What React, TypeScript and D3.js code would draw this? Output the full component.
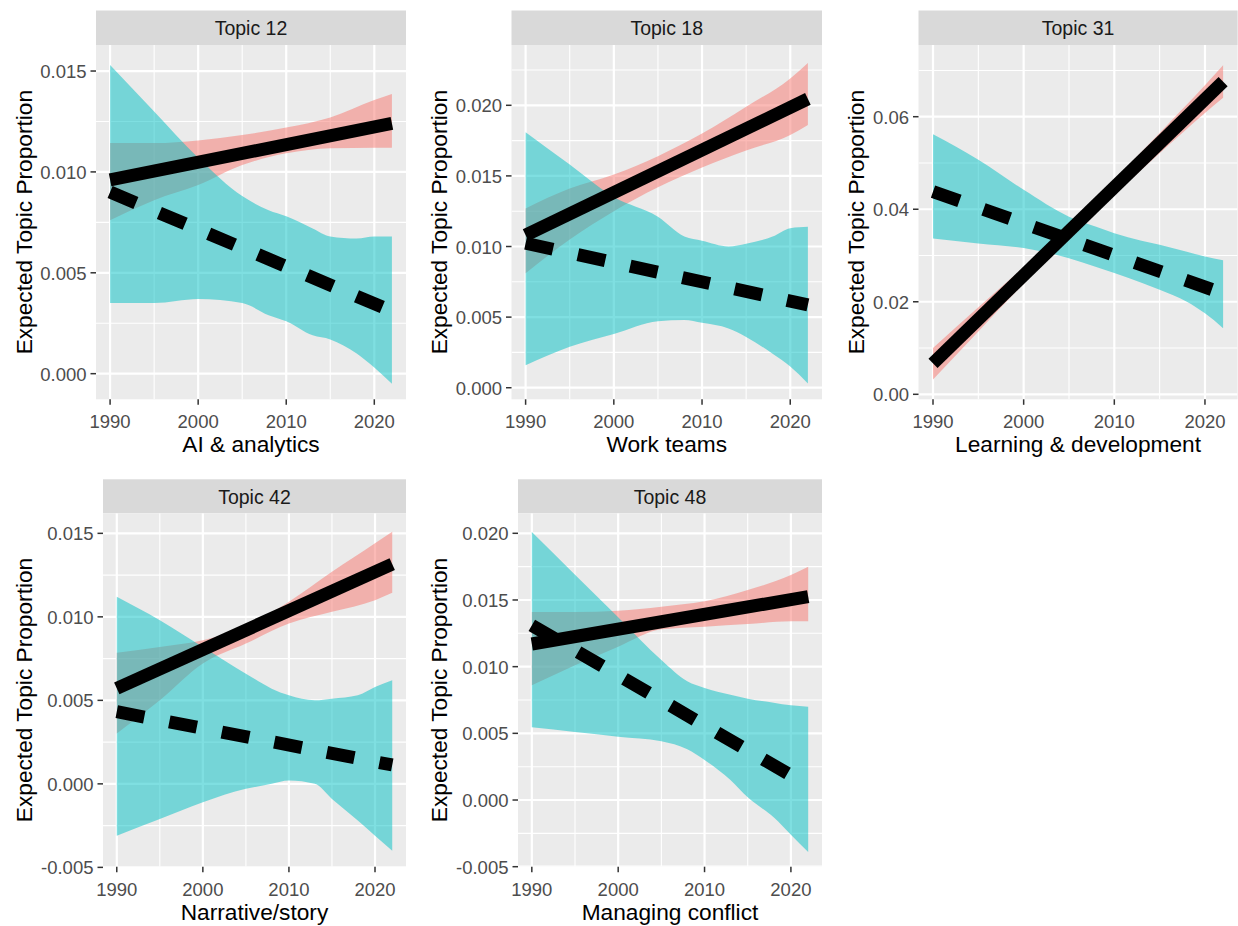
import React from 'react';
import * as d3 from 'd3';

// ---------- DATA ----------
const YEARS_RED = [1990, 1995, 2000, 2005, 2010, 2015, 2020, 2022];
const YEARS_CYAN = [1990, 1995, 2000, 2005, 2008, 2010, 2013, 2015, 2018, 2020, 2022];
const LINE_YEARS = [1990, 2022];
const X_TICKS = [1990, 2000, 2010, 2020];

const TITLES = ['Topic 12', 'Topic 18', 'Topic 31', 'Topic 42', 'Topic 48'];
const X_LABELS = ['AI & analytics', 'Work teams', 'Learning & development', 'Narrative/story', 'Managing conflict'];
const Y_LABEL = 'Expected Topic Proportion';

// Topic 12
const t12RedUpper = [0.01143, 0.01143, 0.01156, 0.01183, 0.0122, 0.0127, 0.01356, 0.01386];
const t12RedLower = [0.0076, 0.0086, 0.00935, 0.01034, 0.01092, 0.01117, 0.0112, 0.0112];
const t12CyanUpper = [0.0153, 0.013, 0.0107, 0.0088, 0.0081, 0.0078, 0.0072, 0.0068, 0.0067, 0.0068, 0.0068];
const t12CyanLower = [0.0035, 0.0035, 0.0037, 0.0035, 0.0029, 0.0026, 0.0019, 0.0017, 0.001, 0.0003, -0.0005];
const t12Solid = [0.0096, 0.0124];
const t12Dashed = [0.009, 0.0031];
const t12Ticks = [0, 0.005, 0.01, 0.015];

// Topic 18
const t18RedUpper = [0.0127, 0.0141, 0.0151, 0.0164, 0.018, 0.0199, 0.0219, 0.023];
const t18RedLower = [0.0081, 0.0105, 0.0125, 0.0142, 0.0156, 0.0168, 0.0179, 0.0186];
const t18CyanUpper = [0.0181, 0.0158, 0.0135, 0.0121, 0.0107, 0.0104, 0.01, 0.0102, 0.0107, 0.0113, 0.0114];
const t18CyanLower = [0.0016, 0.0029, 0.0038, 0.0047, 0.0048, 0.0046, 0.0042, 0.0036, 0.0024, 0.0015, 0.0003];
const t18Solid = [0.0108, 0.02045];
const t18Dashed = [0.01023, 0.00586];
const t18Ticks = [0, 0.005, 0.01, 0.015, 0.02];

// Topic 31
const t31RedUpper = [0.01, 0.0188, 0.0275, 0.0367, 0.0464, 0.0565, 0.0668, 0.0711];
const t31RedLower = [0.0032, 0.0136, 0.0239, 0.0338, 0.0432, 0.0521, 0.0608, 0.0641];
const t31CyanUpper = [0.0562, 0.0507, 0.0442, 0.0384, 0.0362, 0.0348, 0.0332, 0.0323, 0.0308, 0.0298, 0.029];
const t31CyanLower = [0.0337, 0.0326, 0.0316, 0.0294, 0.0275, 0.0262, 0.0241, 0.0226, 0.02, 0.0175, 0.0143];
const t31Solid = [0.0067, 0.0676];
const t31Dashed = [0.0438, 0.0218];
const t31Ticks = [0, 0.02, 0.04, 0.06];

// Topic 42
const t42RedUpper = [0.00785, 0.0082, 0.0086, 0.0094, 0.0109, 0.0127, 0.0144, 0.0151];
const t42RedLower = [0.00302, 0.005, 0.0072, 0.0084, 0.0096, 0.0103, 0.011, 0.01144];
const t42CyanUpper = [0.0112, 0.0098, 0.0082, 0.0066, 0.0057, 0.0053, 0.005, 0.0051, 0.0053, 0.0058, 0.0062];
const t42CyanLower = [-0.0031, -0.0021, -0.0011, -0.0003, 0.0, 0.0002, 0.0, -0.0009, -0.0022, -0.0031, -0.004];
const t42Solid = [0.00572, 0.01316];
const t42Dashed = [0.00432, 0.00113];
const t42Ticks = [-0.005, 0, 0.005, 0.01, 0.015];

// Topic 48
const t48RedUpper = [0.0141, 0.0141, 0.0142, 0.0145, 0.0149, 0.01575, 0.01687, 0.0175];
const t48RedLower = [0.0086, 0.0101, 0.0115, 0.0128, 0.013, 0.0132, 0.0134, 0.0134];
const t48CyanUpper = [0.0201, 0.0169, 0.0137, 0.0105, 0.0089, 0.0084, 0.0079, 0.0076, 0.0073, 0.0071, 0.007];
const t48CyanLower = [0.00545, 0.0051, 0.00475, 0.0044, 0.0038, 0.003, 0.0015, 0.0002, -0.0013, -0.0026, -0.0039];
const t48Solid = [0.0117, 0.01525];
const t48Dashed = [0.0131, 0.0011];
const t48Ticks = [-0.005, 0, 0.005, 0.01, 0.015, 0.02];

// ---------- LAYOUT ----------
const W = 1238;
const H = 926;
const FONT = "'Liberation Sans', Arial, sans-serif";
const X_DOMAIN: [number, number] = [1988.4, 2023.6];

const LAYOUT = [
  { x0: 96, x1: 406, stripTop: 10.5, y0: 45, y1: 399.3, yDomain: [-0.00127, 0.01629], dec: 3, ytx: 24 },
  { x0: 511.5, x1: 822, stripTop: 10.5, y0: 45, y1: 399.3, yDomain: [-0.00082, 0.02427], dec: 3, ytx: 439 },
  { x0: 918.5, x1: 1237.6, stripTop: 10.5, y0: 45, y1: 399.3, yDomain: [-0.00108, 0.0755], dec: 2, ytx: 856 },
  { x0: 103, x1: 406, stripTop: 479.3, y0: 513.3, y1: 866.7, yDomain: [-0.00496, 0.0162], dec: 3, ytx: 24 },
  { x0: 518, x1: 822, stripTop: 479.3, y0: 513.3, y1: 866.7, yDomain: [-0.005, 0.0215], dec: 3, ytx: 439 },
];

const SERIES = [
  { ru: t12RedUpper, rl: t12RedLower, cu: t12CyanUpper, cl: t12CyanLower, solid: t12Solid, dashed: t12Dashed, ticks: t12Ticks },
  { ru: t18RedUpper, rl: t18RedLower, cu: t18CyanUpper, cl: t18CyanLower, solid: t18Solid, dashed: t18Dashed, ticks: t18Ticks },
  { ru: t31RedUpper, rl: t31RedLower, cu: t31CyanUpper, cl: t31CyanLower, solid: t31Solid, dashed: t31Dashed, ticks: t31Ticks },
  { ru: t42RedUpper, rl: t42RedLower, cu: t42CyanUpper, cl: t42CyanLower, solid: t42Solid, dashed: t42Dashed, ticks: t42Ticks },
  { ru: t48RedUpper, rl: t48RedLower, cu: t48CyanUpper, cl: t48CyanLower, solid: t48Solid, dashed: t48Dashed, ticks: t48Ticks },
];

function minorBreaks(ticks: number[], domain: [number, number]) {
  const step = ticks[1] - ticks[0];
  const out: number[] = [];
  for (const t of ticks) out.push(t - step / 2);
  out.push(ticks[ticks.length - 1] + step / 2);
  return out.filter((v) => v > domain[0] && v < domain[1]);
}

function PanelView({ i }: { i: number }) {
  const L = LAYOUT[i];
  const S = SERIES[i];
  const x = d3.scaleLinear().domain(X_DOMAIN).range([L.x0, L.x1]);
  const y = d3.scaleLinear().domain(L.yDomain as [number, number]).range([L.y1, L.y0]);

  const redArea = d3
    .area<number>()
    .curve(d3.curveMonotoneX)
    .x((_, k) => x(YEARS_RED[k]))
    .y0((_, k) => y(S.rl[k]))
    .y1((d) => y(d))(S.ru) as string;
  const cyanArea = d3
    .area<number>()
    .curve(d3.curveMonotoneX)
    .x((_, k) => x(YEARS_CYAN[k]))
    .y0((_, k) => y(S.cl[k]))
    .y1((d) => y(d))(S.cu) as string;
  const line = d3
    .line<number>()
    .x((_, k) => x(LINE_YEARS[k]))
    .y((d) => y(d));

  const xMinor = minorBreaks(X_TICKS, X_DOMAIN);
  const yMinor = minorBreaks(S.ticks, L.yDomain as [number, number]);
  const clipId = `clip${i}`;
  const cx = (L.x0 + L.x1) / 2;
  const cy = (L.y0 + L.y1) / 2;

  return (
    <g>
      <defs>
        <clipPath id={clipId}>
          <rect x={L.x0} y={L.y0} width={L.x1 - L.x0} height={L.y1 - L.y0} />
        </clipPath>
      </defs>
      {/* strip */}
      <rect x={L.x0} y={L.stripTop} width={L.x1 - L.x0} height={L.y0 - L.stripTop} fill="#D9D9D9" />
      <text x={cx} y={(L.stripTop + L.y0) / 2 + 7.2} textAnchor="middle" fontSize={19.5} fill="#1A1A1A" fontFamily={FONT}>
        {TITLES[i]}
      </text>
      {/* panel */}
      <rect x={L.x0} y={L.y0} width={L.x1 - L.x0} height={L.y1 - L.y0} fill="#EBEBEB" />
      <g clipPath={`url(#${clipId})`}>
        {yMinor.map((v) => (
          <line key={'ym' + v} x1={L.x0} x2={L.x1} y1={y(v)} y2={y(v)} stroke="#fff" strokeWidth={1.1} />
        ))}
        {xMinor.map((v) => (
          <line key={'xm' + v} x1={x(v)} x2={x(v)} y1={L.y0} y2={L.y1} stroke="#fff" strokeWidth={1.1} />
        ))}
        {S.ticks.map((v) => (
          <line key={'yM' + v} x1={L.x0} x2={L.x1} y1={y(v)} y2={y(v)} stroke="#fff" strokeWidth={2.2} />
        ))}
        {X_TICKS.map((v) => (
          <line key={'xM' + v} x1={x(v)} x2={x(v)} y1={L.y0} y2={L.y1} stroke="#fff" strokeWidth={2.2} />
        ))}
        <path d={redArea} fill="#F8766D" fillOpacity={0.5} />
        <path d={cyanArea} fill="#00BFC4" fillOpacity={0.5} />
        <path d={line(S.solid) as string} fill="none" stroke="#000" strokeWidth={13} strokeLinecap="butt" />
        <path
          d={line(S.dashed) as string}
          fill="none"
          stroke="#000"
          strokeWidth={13}
          strokeLinecap="butt"
          strokeDasharray="28 25.5"
        />
      </g>
      {/* y axis */}
      {S.ticks.map((v) => (
        <g key={'yt' + v}>
          <line x1={L.x0 - 5.5} x2={L.x0} y1={y(v)} y2={y(v)} stroke="#333" strokeWidth={1.5} />
          <text x={L.x0 - 9.5} y={y(v) + 7} textAnchor="end" fontSize={18.5} fill="#4D4D4D" fontFamily={FONT}>
            {v.toFixed(L.dec)}
          </text>
        </g>
      ))}
      {/* x axis */}
      {X_TICKS.map((v) => (
        <g key={'xt' + v}>
          <line x1={x(v)} x2={x(v)} y1={L.y1} y2={L.y1 + 5.5} stroke="#333" strokeWidth={1.5} />
          <text x={x(v)} y={L.y1 + 29} textAnchor="middle" fontSize={18.5} fill="#4D4D4D" fontFamily={FONT}>
            {v}
          </text>
        </g>
      ))}
      <text x={cx} y={L.y1 + 53} textAnchor="middle" fontSize={22.7} fill="#000" fontFamily={FONT}>
        {X_LABELS[i]}
      </text>
      <text
        transform={`translate(${L.ytx + 8},${cy}) rotate(-90)`}
        textAnchor="middle"
        fontSize={22.7}
        fill="#000"
        fontFamily={FONT}
      >
        {Y_LABEL}
      </text>
    </g>
  );
}

export default function App() {
  return (
    <svg
      width={W}
      height={H}
      viewBox={`0 0 ${W} ${H}`}
      style={{ position: 'absolute', left: 0, top: 0, background: '#fff' }}
    >
      <rect x={0} y={0} width={W} height={H} fill="#fff" />
      {LAYOUT.map((_, i) => (
        <PanelView key={i} i={i} />
      ))}
    </svg>
  );
}
